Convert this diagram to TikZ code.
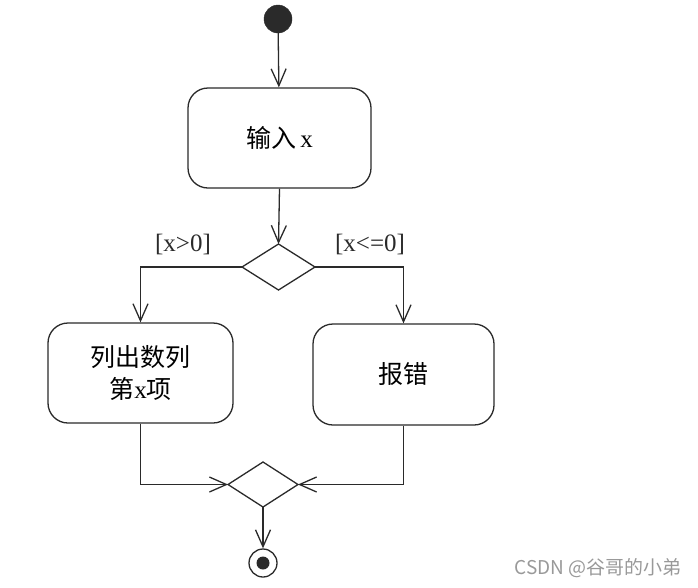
\documentclass[tikz,border=0pt]{standalone}
\usepackage{fontspec}
\setmainfont{Liberation Serif}
\newfontfamily\cjk{Noto Sans CJK SC}
\usetikzlibrary{arrows.meta,shapes.geometric}
\definecolor{ink}{HTML}{2A2A2A}
\tikzset{
  lw/.style={line width=1.3pt, draw=ink},
  act/.style={lw, rectangle, rounded corners=20pt, align=center, font=\fontsize{25}{32}\selectfont, inner sep=0pt},
  dec/.style={lw, diamond, inner sep=0pt, outer sep=0pt},
  arr/.style={lw, -{Straight Barb[length=17pt,width=15pt,line width=1.3pt]}},
  lbl/.style={font=\fontsize{25}{28}\selectfont, text=ink},
}
\begin{document}
\begin{tikzpicture}[x=1pt,y=-1pt]
\useasboundingbox (0,0) rectangle (698,587);
\node[circle, fill=ink, draw=ink, minimum size=28pt, inner sep=0pt] (start) at (278,19) {};
\node[act, minimum width=183pt, minimum height=100pt] (input) at (279.5,138) {{\cjk 输入}\,x};
\node[dec, minimum width=73pt, minimum height=46pt] (d1) at (278.5,267) {};
\node[act, minimum width=185pt, minimum height=100pt] (list) at (140.5,373) {{\cjk 列出数列}\\{\cjk 第}x{\cjk 项}};
\node[act, minimum width=181pt, minimum height=101pt] (err) at (403.5,374.5) {\cjk 报错};
\node[dec, minimum width=70pt, minimum height=45pt] (d2) at (263,484.5) {};
\node[circle, lw, fill=white, minimum size=28pt, inner sep=0pt] (endo) at (263,563) {};
\node[circle, fill=ink, minimum size=13pt, inner sep=0pt] (endi) at (endo.center) {};
\node[lbl] (l1) at (183,244) {[x>0]};
\node[lbl] (l2) at (370,244) {[x<=0]};
\draw[arr] (start) -- (input);
\draw[arr] (input.south) -- (d1.north);
\draw[arr] (d1.west) -| (list.north);
\draw[arr] (d1.east) -| (err.north);
\draw[arr] (list.south) |- (d2.west);
\draw[arr] (err.south) |- (d2.east);
\draw[arr] (d2.south) -- (endo.north);
\node[font=\cjk\fontsize{19}{21}\selectfont, text=gray!80] (wm) at (598,568) {CSDN @谷哥的小弟};
\end{tikzpicture}
\end{document}
